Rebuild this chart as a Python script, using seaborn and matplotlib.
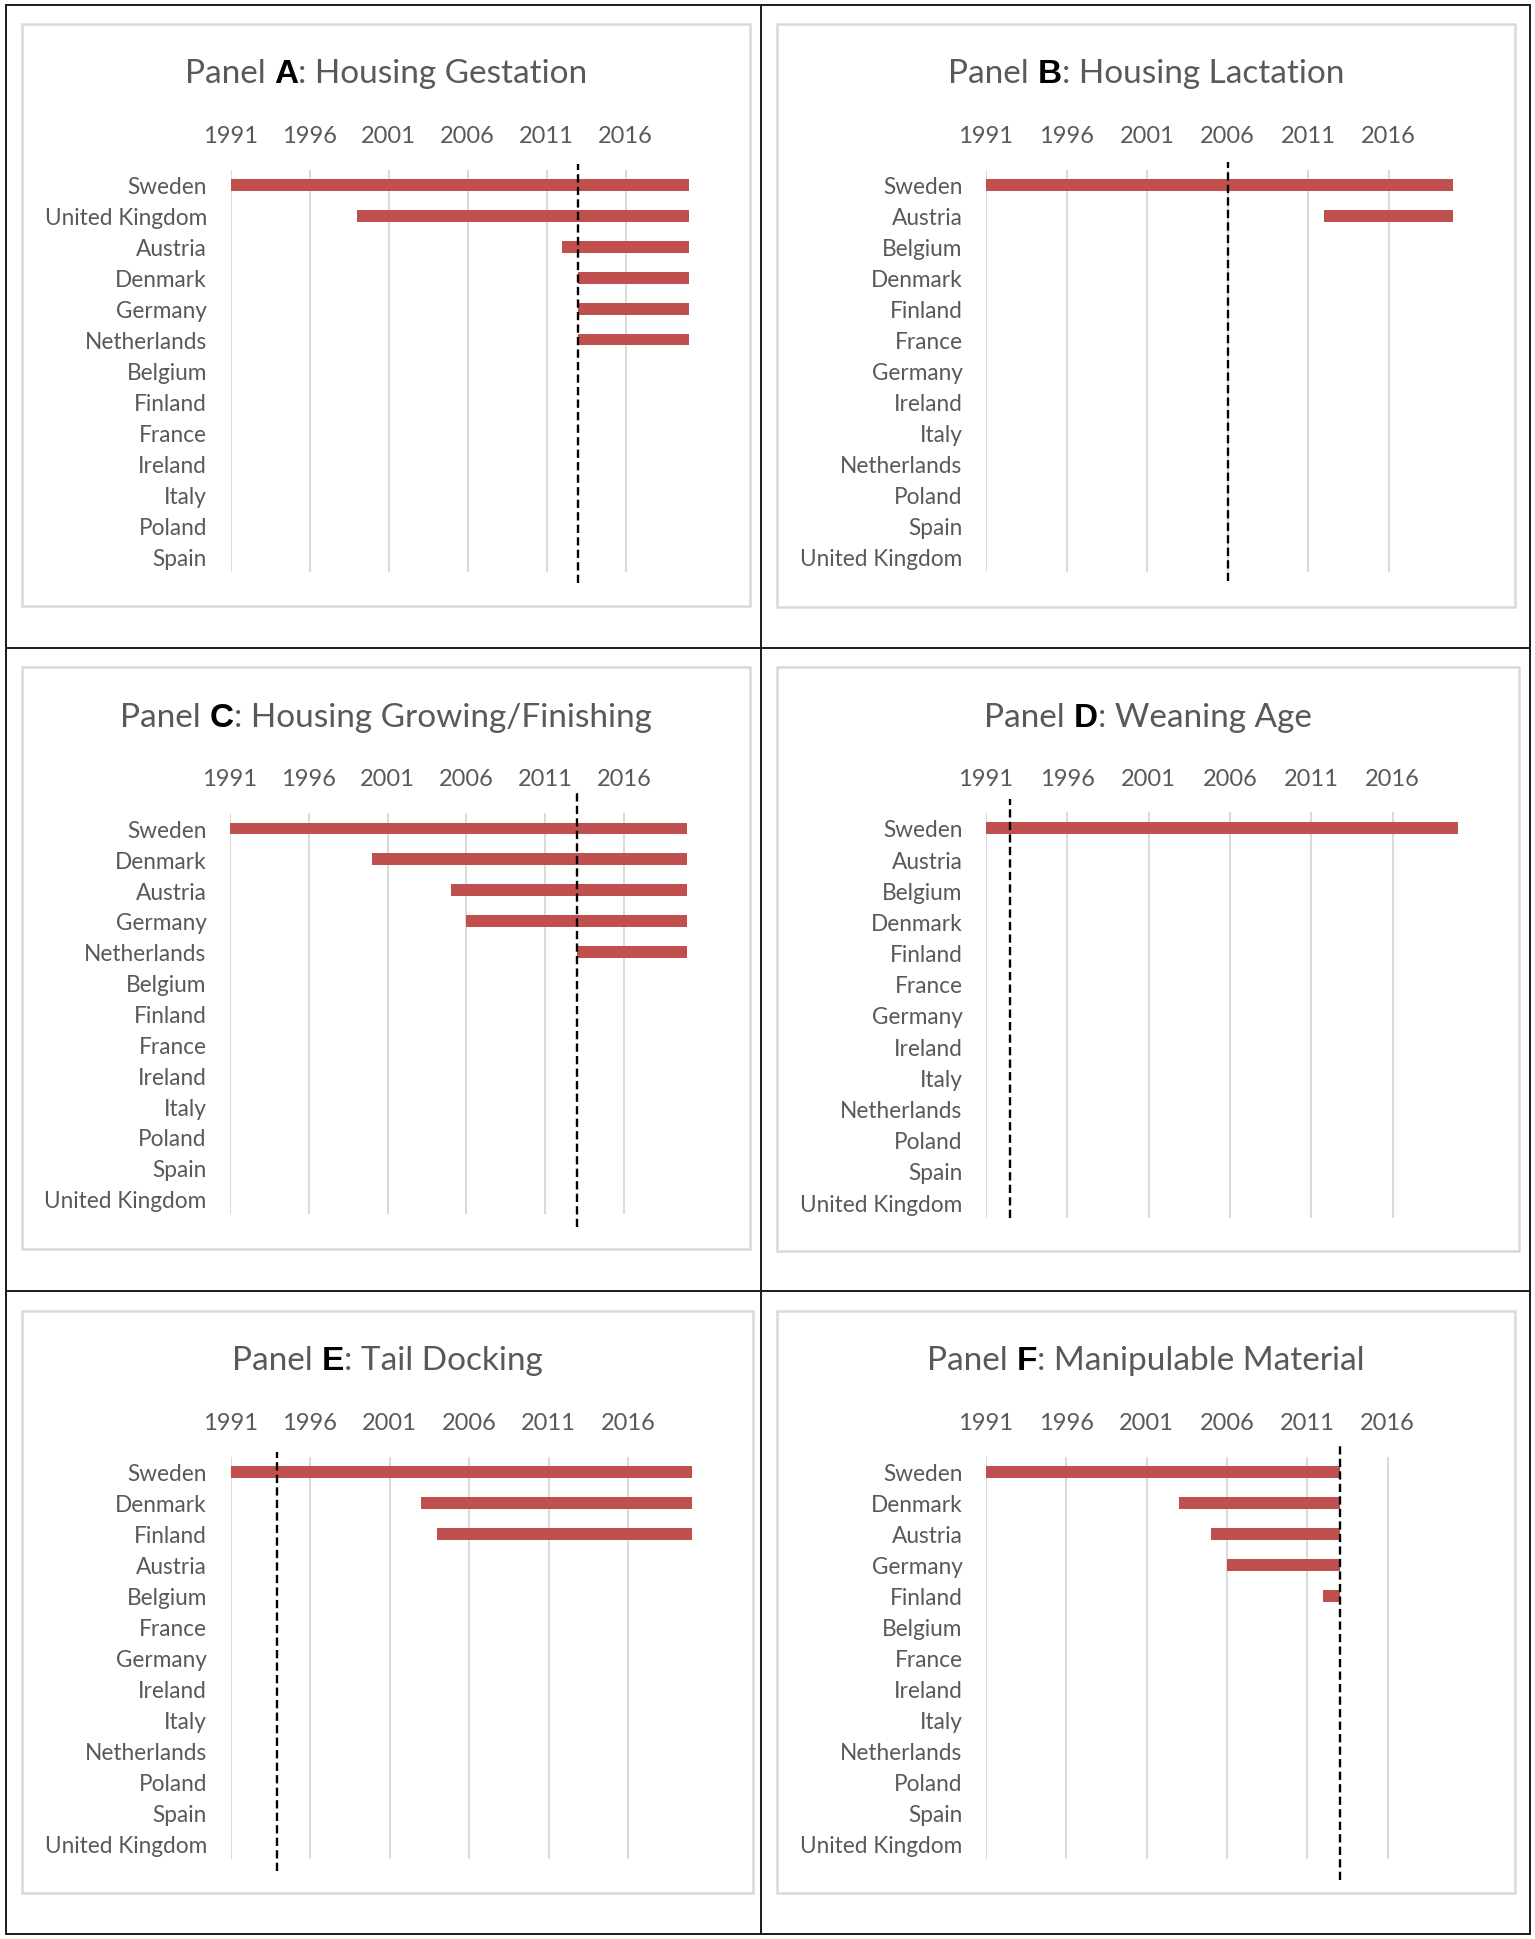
import numpy as np
import pandas as pd
import seaborn as sns
import matplotlib.pyplot as plt
from matplotlib.patches import Rectangle
from matplotlib.lines import Line2D

# ---- data -------------------------------------------------------------
years = [1991, 1996, 2001, 2006, 2011, 2016]

a_countries = ['Sweden', 'United Kingdom', 'Austria', 'Denmark', 'Germany', 'Netherlands',
               'Belgium', 'Finland', 'France', 'Ireland', 'Italy', 'Poland', 'Spain']
a_start = [1991, 1999, 2012, 2013, 2013, 2013]
a_end = [2020, 2020, 2020, 2020, 2020, 2020]
a_ref = 2013

b_countries = ['Sweden', 'Austria', 'Belgium', 'Denmark', 'Finland', 'France', 'Germany',
               'Ireland', 'Italy', 'Netherlands', 'Poland', 'Spain', 'United Kingdom']
b_start = [1991, 2012]
b_end = [2020, 2020]
b_ref = 2006

c_countries = ['Sweden', 'Denmark', 'Austria', 'Germany', 'Netherlands', 'Belgium', 'Finland',
               'France', 'Ireland', 'Italy', 'Poland', 'Spain', 'United Kingdom']
c_start = [1991, 2000, 2005, 2006, 2013]
c_end = [2020, 2020, 2020, 2020, 2020]
c_ref = 2013

d_countries = ['Sweden', 'Austria', 'Belgium', 'Denmark', 'Finland', 'France', 'Germany',
               'Ireland', 'Italy', 'Netherlands', 'Poland', 'Spain', 'United Kingdom']
d_start = [1991]
d_end = [2020]
d_ref = 1992.5

e_countries = ['Sweden', 'Denmark', 'Finland', 'Austria', 'Belgium', 'France', 'Germany',
               'Ireland', 'Italy', 'Netherlands', 'Poland', 'Spain', 'United Kingdom']
e_start = [1991, 2003, 2004]
e_end = [2020, 2020, 2020]
e_ref = 1993.9

f_countries = ['Sweden', 'Denmark', 'Austria', 'Germany', 'Finland', 'Belgium', 'France',
               'Ireland', 'Italy', 'Netherlands', 'Poland', 'Spain', 'United Kingdom']
f_start = [1991, 2003, 2005, 2006, 2012]
f_end = [2013, 2013, 2013, 2013, 2013]
f_ref = 2013

titles = {'A': 'Housing Gestation', 'B': 'Housing Lactation', 'C': 'Housing Growing/Finishing',
          'D': 'Weaning Age', 'E': 'Tail Docking', 'F': 'Manipulable Material'}

# ---- layout (pixels) --------------------------------------------------
W, H = 1535, 1940
GREY = '#595959'
RED = '#C0504D'
GRID = '#D9D9D9'

sns.set_style('white')
plt.rcParams['font.family'] = ['Lato', 'DejaVu Sans']

fig = plt.figure(figsize=(W / 100, H / 100), dpi=100)


def fx(x):
    return x / W


def fy(y):
    return 1 - y / H


def add_axes_px(x0, y0, x1, y1):
    return fig.add_axes([fx(x0), fy(y1), (x1 - x0) / W, (y1 - y0) / H])


panels = [
    # letter, countries, start, end, ref, axes box, gray box, title baseline, dash extent
    ('A', a_countries, a_start, a_end, a_ref, (230.5, 170.5, 688.7, 572.5), (22, 25, 750, 607), 83, (-0.029, 1.014)),
    ('B', b_countries, b_start, b_end, b_ref, (986, 170.5, 1453, 572.5), (777, 25, 1515, 608), 83, (-0.024, 1.019)),
    ('C', c_countries, c_start, c_end, c_ref, (230, 814, 687, 1215), (22, 668, 750, 1250), 727, (-0.032, 1.061)),
    ('D', d_countries, d_start, d_end, d_ref, (986, 813.4, 1457.6, 1218.6), (777, 668, 1519, 1252), 727, (0.0, 1.033)),
    ('E', e_countries, e_start, e_end, e_ref, (230.5, 1457.5, 691.6, 1859.5), (22, 1312, 753, 1894), 1370, (-0.031, 1.012)),
    ('F', f_countries, f_start, f_end, f_ref, (986, 1457.5, 1452, 1859.5), (777, 1312, 1515, 1894), 1370, (-0.053, 1.031)),
]

renderer = fig.canvas.get_renderer()

for letter, countries, start, end, ref, abox, gbox, tbase, dash in panels:
    n = len(countries)
    df = pd.DataFrame({'country': countries,
                       'start': start + [np.nan] * (n - len(start)),
                       'end': end + [np.nan] * (n - len(end))})
    df['length'] = (df['end'] - df['start']).fillna(0)
    df['left'] = df['start'].fillna(years[0])

    ax = add_axes_px(*abox)
    sns.barplot(data=df, x='length', y='country', order=countries, orient='h',
                color=RED, saturation=1, width=0.38, errorbar=None,
                left=df['left'].to_numpy(), linewidth=0, ax=ax)
    ax.set_xlim(1991, 2020)
    ax.set_ylim(n - 0.5, -0.5)
    ax.set_xticks(years)
    ax.xaxis.tick_top()
    ax.tick_params(axis='x', length=0, pad=17, labelsize=17, labelcolor=GREY)
    ax.tick_params(axis='y', length=0, pad=17, labelsize=16.3, labelcolor=GREY)
    ax.grid(axis='x', color=GRID, linewidth=1.4)
    ax.grid(axis='y', visible=False)
    ax.set_axisbelow(True)
    ax.set_xlabel('')
    ax.set_ylabel('')
    for s in ax.spines.values():
        s.set_visible(False)
    ax.set_facecolor('none')

    ax.axvline(ref, ymin=dash[0], ymax=dash[1], color='black', linewidth=1.7,
               linestyle=(0, (3.5, 1.8)), clip_on=False, zorder=5)

    # chart border
    gx0, gy0, gx1, gy1 = gbox
    fig.add_artist(Rectangle((fx(gx0), fy(gy1)), (gx1 - gx0) / W, (gy1 - gy0) / H,
                             transform=fig.transFigure, fill=False,
                             edgecolor=GRID, linewidth=1.8))

    # title with bold panel letter
    parts = [('Panel ', GREY, 'normal', ['Lato']),
             (letter, 'black', 'bold', ['Liberation Sans']),
             (': ' + titles[letter], GREY, 'normal', ['Lato'])]
    texts = [fig.text(0, fy(tbase), s, color=c, fontweight=w, family=f,
                      fontsize=24, ha='left', va='baseline')
             for s, c, w, f in parts]
    widths = [t.get_window_extent(renderer).width for t in texts]
    x = (gx0 + gx1) / 2 - sum(widths) / 2
    for t, w in zip(texts, widths):
        t.set_x(fx(x))
        x += w

# table lines
for xs, ys in [((6, 1530), (6, 6)), ((6, 1530), (649, 649)), ((6, 1530), (1292, 1292)),
               ((6, 1530), (1935, 1935)), ((6, 6), (6, 1935)), ((761, 761), (6, 1935)),
               ((1530, 1530), (6, 1935))]:
    fig.add_artist(Line2D([fx(v) for v in xs], [fy(v) for v in ys],
                          transform=fig.transFigure, color='#1a1a1a', linewidth=1.4))

fig.savefig('out.png', dpi=100)
